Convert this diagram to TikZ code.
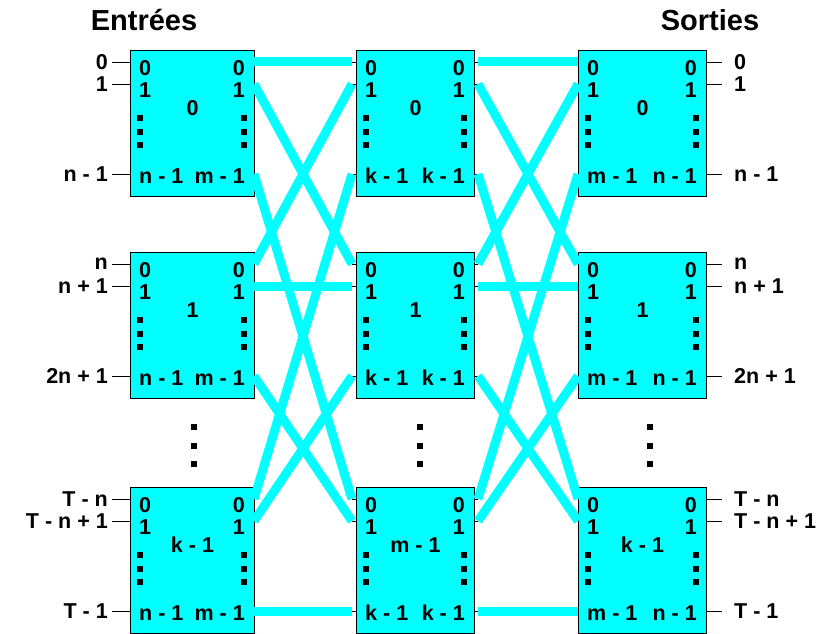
\documentclass[tikz,border=0pt]{standalone}
\usepackage{fontspec}
\setmainfont{Liberation Sans}
\usetikzlibrary{calc,positioning}
\definecolor{cyanvif}{HTML}{00FFFF}
\tikzset{
  %% boxes of the three stages
  etage/.style={draw=black, fill=cyanvif, line width=1pt, anchor=north west,
    inner sep=0pt, minimum height=146pt},
  %% links between stages
  lien/.style={draw=cyanvif, line width=9pt},
  patte/.style={draw=black, line width=0.9pt},
  num/.style={font=\fontsize{21.5}{24}\selectfont\bfseries, inner sep=0pt},
  titre/.style={font=\fontsize{29}{33}\selectfont\bfseries, inner sep=0pt},
}
\begin{document}
\begin{tikzpicture}[x=1pt, y=-1pt]
\useasboundingbox (0,0) rectangle (819,634);

\node[titre] (titreE) at (144,20) {Entrées};
\node[titre] (titreS) at (710,20) {Sorties};

%% Stages
\foreach \nom/\x/\y/\w/\sw/\se/\ga/\dr/\mi in {
  E0/130/50/124/18/0/n - 1/m - 1/0, E1/130/252/124/18/0/n - 1/m - 1/1, El/130/487/124/18/0/n - 1/m - 1/k - 1,
  M0/356/50/118/4/4/k - 1/k - 1/0, M1/356/252/118/4/4/k - 1/k - 1/1, Ml/356/487/118/4/4/k - 1/k - 1/m - 1,
  S0/578/50/128/0/16/m - 1/n - 1/0, S1/578/252/128/0/16/m - 1/n - 1/1, Sl/578/487/128/0/16/m - 1/n - 1/k - 1}{
  \node[etage, minimum width=\w pt] (\nom) at (\x,\y) {};
  \coordinate (\nom-w0) at (\x-\sw,\y+12);
  \coordinate (\nom-w1) at (\x-\sw,\y+34);
  \coordinate (\nom-wl) at (\x-\sw,\y+124);
  \coordinate (\nom-e0) at (\x+\w+\se,\y+12);
  \coordinate (\nom-e1) at (\x+\w+\se,\y+34);
  \coordinate (\nom-el) at (\x+\w+\se,\y+124);
  \foreach \p in {0,1,l}{
    \draw[patte] (\nom.west |- \nom-w\p) -- (\nom-w\p);
    \draw[patte] (\nom.east |- \nom-e\p) -- (\nom-e\p);
  }
  \node[num, anchor=west] (\nom-g0) at ($(\nom.north west)+(9,18)$) {0};
  \node[num, anchor=west] (\nom-g1) at ($(\nom.north west)+(9,40)$) {1};
  \node[num, anchor=west] (\nom-gl) at ($(\nom.north west)+(9,126)$) {\ga};
  \node[num, anchor=east] (\nom-d0) at ($(\nom.north east)+(-10,18)$) {0};
  \node[num, anchor=east] (\nom-d1) at ($(\nom.north east)+(-10,40)$) {1};
  \node[num, anchor=east] (\nom-dl) at ($(\nom.north east)+(-10,126)$) {\dr};
  \node[num] (\nom-c) at ($(\nom.north)+(0,58)$) {\mi};
  \foreach \v in {68,82,95}{
    \fill ($(\nom.north west)+(7,\v-3)$) rectangle ++(6,6);
    \fill ($(\nom.north east)+(-14,\v-3)$) rectangle ++(6,6);
  }
}

%% Inputs and outputs
\foreach \r/\a/\b/\f in {0/0/1/n - 1, 1/n/n + 1/2n + 1, l/T - n/T - n + 1/T - 1}{
  \node[num, anchor=east, inner xsep=4pt] (ent\r0) at (E\r-w0) {\a};
  \node[num, anchor=east, inner xsep=4pt] (ent\r1) at (E\r-w1) {\b};
  \node[num, anchor=east, inner xsep=4pt] (ent\r l) at (E\r-wl) {\f};
  \node[num, anchor=west, inner xsep=12pt] (sor\r0) at (S\r-e0) {\a};
  \node[num, anchor=west, inner xsep=12pt] (sor\r1) at (S\r-e1) {\b};
  \node[num, anchor=west, inner xsep=12pt] (sor\r l) at (S\r-el) {\f};
}

%% Links
\foreach \i in {0,1,l}{
  \foreach \j in {0,1,l}{
    \draw[lien] (E\i-e\j) -- (M\j-w\i);
    \draw[lien] (M\i-e\j) -- (S\j-w\i);
  }
}

%% vertical dots
\foreach \x in {194,420,650}
  \foreach \v in {427,446,464}
    \fill (\x-3,\v-3) rectangle ++(6,6);

\end{tikzpicture}
\end{document}
